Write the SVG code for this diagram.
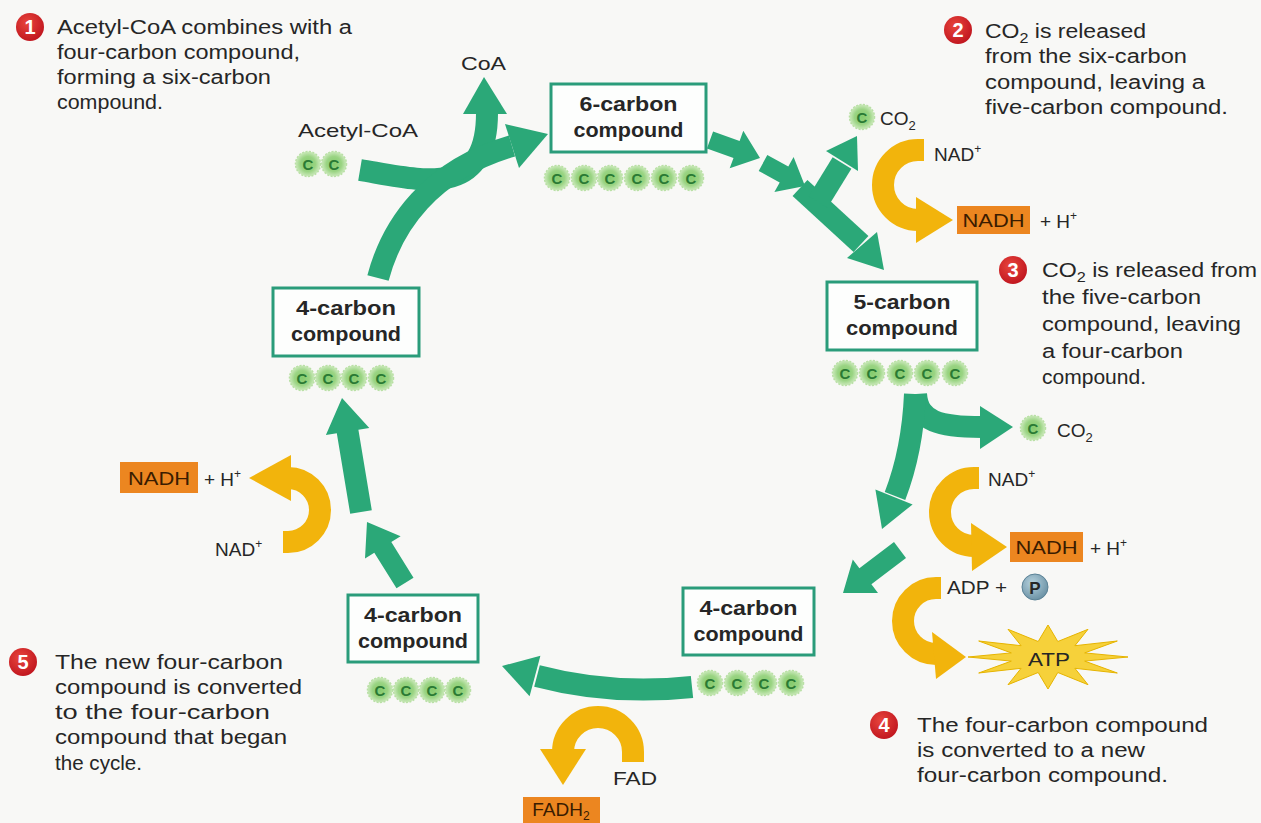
<svg xmlns="http://www.w3.org/2000/svg" xmlns:xlink="http://www.w3.org/1999/xlink" width="1261" height="823" viewBox="0 0 1261 823">
<defs>
<style>
text{font-family:"Liberation Sans",Arial,sans-serif;fill:#262626}
.ann{font-size:20px}
.lbl{font-size:19px}
.bt{font-size:21px;font-weight:bold;text-anchor:middle;fill:#262626}
.box{fill:#fdfefd;stroke:#2a9c7a;stroke-width:3}
.g{fill:#2ba878}
.gs{fill:none;stroke:#2ba878;stroke-width:22}
.y{fill:#f2b40c}
.ys{fill:none;stroke:#f2b40c;stroke-width:22}
.nadh{fill:#ec8620}
.nt{font-size:19px;text-anchor:middle;fill:#3a1c00}
.ct{font-size:15px;font-weight:bold;text-anchor:middle;fill:#2a7a34}
.bn{font-size:20px;font-weight:bold;text-anchor:middle;fill:#fff}
</style>
<radialGradient id="cg" cx="50%" cy="50%" r="50%">
<stop offset="0" stop-color="#84cb6d"/><stop offset="0.6" stop-color="#9ad483"/><stop offset="1" stop-color="#cdeabd"/>
</radialGradient>
<radialGradient id="rg" cx="40%" cy="35%" r="65%">
<stop offset="0" stop-color="#e8453c"/><stop offset="1" stop-color="#c21820"/>
</radialGradient>
<radialGradient id="pg" cx="40%" cy="35%" r="65%">
<stop offset="0" stop-color="#b6d2de"/><stop offset="1" stop-color="#6d93a6"/>
</radialGradient>
<g id="cC"><circle r="12.5" fill="url(#cg)" stroke="#b9e0a5" stroke-width="1.5" stroke-dasharray="2 1.5"/><text class="ct" y="5.5">C</text></g>
</defs>
<rect width="1261" height="823" fill="#f8f8f6"/>

<g id="connectors">
 <path class="gs" d="M 360 170 C 420 180, 487 200, 487 113"/>
 <polygon class="g" points="484,77 463,114 507,114"/>
 <path class="gs" d="M 378 278 C 392 225, 430 170, 512 146"/>
 <polygon class="g" points="548,134 519,168 505,124"/>
 <polygon class="g" points="713.1,131.5 739.6,141 743.3,130.7 760,158 729.7,168.3 733.5,158 706.9,148.5"/>
 <polygon class="g" points="767.3,155.1 788.3,166.6 793.6,157 805,186 774.4,192 779.7,182.4 758.7,170.9"/>
 <path class="gs" d="M 800 188 L 861 244"/>
 <polygon class="g" points="884,270 847,258 877,232"/>
 <path class="gs" d="M 818 202 L 842 163" stroke-width="18"/>
 <polygon class="g" points="857,136 858,171 826,151"/>
 <path class="gs" d="M 916 394 C 918 422, 940 427, 982 427"/>
 <polygon class="g" points="1013,427 980,406 980,449"/>
 <path class="gs" d="M 915 394 C 913 440, 905 470, 895 496"/>
 <polygon class="g" points="882,529 912.6,504.4 875.4,489.6"/>
 <polygon class="g" points="894,542 859.4,568.2 852.8,559.4 843,593 878,593 871.4,584.2 906,558"/>
 <path class="gs" d="M 692 687 C 645 692, 590 690, 537 676"/>
 <polygon class="g" points="502,666 540.4,655.7 529.6,696.3"/>
 <polygon class="g" points="413.5,577.7 391.3,542.1 400.6,536.3 367,522 365,558.5 374.3,552.7 396.5,588.3"/>
 <polygon class="g" points="371.8,510.2 358.4,429.7 369.3,427.9 342,398 325.9,435.1 336.8,433.3 350.2,513.8"/>

 <path class="ys" d="M 924 150 L 918 150 A 35 35 0 0 0 918 220"/>
 <polygon class="y" points="916,197 953,220 916,243"/>
 <path class="ys" d="M 979 478 L 974 478 A 34 34 0 0 0 974 546"/>
 <polygon class="y" points="971,523 1007,547 972,571"/>
 <path class="ys" d="M 941 588 L 936 588 A 33 33 0 0 0 936 654"/>
 <polygon class="y" points="932,632 966,657 936,679"/>
 <path class="ys" d="M 633 762 L 633 752 A 35 35 0 0 0 563 752"/>
 <polygon class="y" points="540,749 586,749 563,785"/>
 <path class="ys" d="M 283 542 L 288 542 A 32 32 0 0 0 288 478"/>
 <polygon class="y" points="291,455 249,478 291,501"/>
</g>

<g id="node-6c">
 <rect class="box" x="551" y="84" width="155" height="68"/>
 <text class="bt" x="628.5" y="111" textLength="98" lengthAdjust="spacingAndGlyphs">6-carbon</text>
 <text class="bt" x="628.5" y="137" textLength="110" lengthAdjust="spacingAndGlyphs">compound</text>
 <use href="#cC" x="557" y="178"/><use href="#cC" x="584" y="178"/><use href="#cC" x="610" y="178"/>
 <use href="#cC" x="637" y="178"/><use href="#cC" x="664" y="178"/><use href="#cC" x="691" y="178"/>
</g>
<g id="node-5c">
 <rect class="box" x="827" y="282" width="150" height="68"/>
 <text class="bt" x="902" y="309" textLength="97" lengthAdjust="spacingAndGlyphs">5-carbon</text>
 <text class="bt" x="902" y="335" textLength="112" lengthAdjust="spacingAndGlyphs">compound</text>
 <use href="#cC" x="845" y="373"/><use href="#cC" x="872" y="373"/><use href="#cC" x="900" y="373"/>
 <use href="#cC" x="927" y="373"/><use href="#cC" x="955" y="373"/>
</g>
<g id="node-4c-right">
 <rect class="box" x="683" y="588" width="131" height="67"/>
 <text class="bt" x="748.5" y="615" textLength="98" lengthAdjust="spacingAndGlyphs">4-carbon</text>
 <text class="bt" x="748.5" y="641" textLength="110" lengthAdjust="spacingAndGlyphs">compound</text>
 <use href="#cC" x="710" y="683"/><use href="#cC" x="737" y="683"/><use href="#cC" x="764" y="683"/><use href="#cC" x="791" y="683"/>
</g>
<g id="node-4c-bottom">
 <rect class="box" x="348" y="595" width="130" height="67"/>
 <text class="bt" x="413" y="622" textLength="98" lengthAdjust="spacingAndGlyphs">4-carbon</text>
 <text class="bt" x="413" y="648" textLength="110" lengthAdjust="spacingAndGlyphs">compound</text>
 <use href="#cC" x="380" y="690"/><use href="#cC" x="406" y="690"/><use href="#cC" x="432" y="690"/><use href="#cC" x="458" y="690"/>
</g>
<g id="node-4c-left">
 <rect class="box" x="273" y="288" width="146" height="68"/>
 <text class="bt" x="346" y="315" textLength="100" lengthAdjust="spacingAndGlyphs">4-carbon</text>
 <text class="bt" x="346" y="341" textLength="110" lengthAdjust="spacingAndGlyphs">compound</text>
 <use href="#cC" x="302" y="378"/><use href="#cC" x="328" y="378"/><use href="#cC" x="354" y="378"/><use href="#cC" x="381" y="378"/>
</g>

<g id="acetyl-coa">
 <text class="lbl" x="298" y="137" textLength="120" lengthAdjust="spacingAndGlyphs">Acetyl-CoA</text>
 <use href="#cC" x="308" y="164"/><use href="#cC" x="334" y="164"/>
</g>
<g id="coa"><text class="lbl" x="461" y="70" textLength="45" lengthAdjust="spacingAndGlyphs">CoA</text></g>

<g id="co2-top">
 <use href="#cC" x="862" y="117"/>
 <text class="lbl" x="880" y="125">CO<tspan font-size="13" dy="5">2</tspan></text>
</g>
<g id="nad-top">
 <text class="lbl" x="934" y="161">NAD<tspan font-size="12" dy="-8">+</tspan></text>
 <rect class="nadh" x="957" y="206" width="73" height="28"/>
 <text class="nt" x="993.5" y="227" textLength="62" lengthAdjust="spacingAndGlyphs">NADH</text>
 <text class="lbl" x="1040" y="228">+ H<tspan font-size="12" dy="-8">+</tspan></text>
</g>
<g id="co2-right">
 <use href="#cC" x="1033" y="428"/>
 <text class="lbl" x="1057" y="437">CO<tspan font-size="13" dy="5">2</tspan></text>
</g>
<g id="nad-right">
 <text class="lbl" x="988" y="486">NAD<tspan font-size="12" dy="-8">+</tspan></text>
 <rect class="nadh" x="1010" y="532" width="73" height="30"/>
 <text class="nt" x="1046.5" y="554" textLength="62" lengthAdjust="spacingAndGlyphs">NADH</text>
 <text class="lbl" x="1090" y="555">+ H<tspan font-size="12" dy="-8">+</tspan></text>
</g>
<g id="atp">
 <text class="lbl" x="947" y="594" textLength="60" lengthAdjust="spacingAndGlyphs">ADP +</text>
 <circle cx="1035" cy="587" r="13" fill="url(#pg)" stroke="#5b8296" stroke-width="1"/>
 <text x="1035" y="594" font-size="17" font-weight="bold" text-anchor="middle" fill="#1f3a4a">P</text>
 <polygon points="1128,657 1084.7,661.1 1117.3,673 1074.9,668.3 1088,684.7 1057.8,672.5 1048,689 1038.2,672.5 1008,684.7 1021.1,668.3 978.7,673 1011.3,661.1 968,657 1011.3,652.9 978.7,641 1021.1,645.7 1008,629.3 1038.2,641.5 1048,625 1057.8,641.5 1088,629.3 1074.9,645.7 1117.3,641 1084.7,652.9" fill="#f6d13a" stroke="#e6b400" stroke-width="1"/>
 <text class="lbl" x="1049" y="666" text-anchor="middle" fill="#3a2a00" textLength="42" lengthAdjust="spacingAndGlyphs">ATP</text>
</g>
<g id="fad">
 <text class="lbl" x="613" y="785" textLength="44" lengthAdjust="spacingAndGlyphs">FAD</text>
 <rect class="nadh" x="523" y="797" width="77" height="26"/>
 <text class="nt" x="561" y="816">FADH<tspan font-size="12" dy="4">2</tspan></text>
</g>
<g id="nad-left">
 <rect class="nadh" x="120" y="462" width="78" height="31"/>
 <text class="nt" x="159" y="485" textLength="62" lengthAdjust="spacingAndGlyphs">NADH</text>
 <text class="lbl" x="204" y="486">+ H<tspan font-size="12" dy="-8">+</tspan></text>
 <text class="lbl" x="215" y="556">NAD<tspan font-size="12" dy="-8">+</tspan></text>
</g>

<g id="step1">
 <circle cx="30" cy="27" r="14" fill="url(#rg)"/><text class="bn" x="30" y="34">1</text>
 <text class="ann" x="57" y="34" textLength="295" lengthAdjust="spacingAndGlyphs">Acetyl-CoA combines with a</text>
 <text class="ann" x="57" y="59" textLength="243" lengthAdjust="spacingAndGlyphs">four-carbon compound,</text>
 <text class="ann" x="57" y="84" textLength="214" lengthAdjust="spacingAndGlyphs">forming a six-carbon</text>
 <text class="ann" x="57" y="109" textLength="106" lengthAdjust="spacingAndGlyphs">compound.</text>
</g>
<g id="step2">
 <circle cx="958" cy="30" r="14" fill="url(#rg)"/><text class="bn" x="958" y="37">2</text>
 <text class="ann" x="985" y="38" textLength="161" lengthAdjust="spacingAndGlyphs">CO<tspan font-size="14" dy="5">2</tspan><tspan dy="-5"> is released</tspan></text>
 <text class="ann" x="985" y="63" textLength="202" lengthAdjust="spacingAndGlyphs">from the six-carbon</text>
 <text class="ann" x="985" y="89" textLength="220" lengthAdjust="spacingAndGlyphs">compound, leaving a</text>
 <text class="ann" x="985" y="114" textLength="243" lengthAdjust="spacingAndGlyphs">five-carbon compound.</text>
</g>
<g id="step3">
 <circle cx="1013" cy="270" r="14" fill="url(#rg)"/><text class="bn" x="1013" y="277">3</text>
 <text class="ann" x="1042" y="277" textLength="215" lengthAdjust="spacingAndGlyphs">CO<tspan font-size="14" dy="5">2</tspan><tspan dy="-5"> is released from</tspan></text>
 <text class="ann" x="1042" y="304" textLength="159" lengthAdjust="spacingAndGlyphs">the five-carbon</text>
 <text class="ann" x="1042" y="331" textLength="199" lengthAdjust="spacingAndGlyphs">compound, leaving</text>
 <text class="ann" x="1042" y="358" textLength="141" lengthAdjust="spacingAndGlyphs">a four-carbon</text>
 <text class="ann" x="1042" y="384" textLength="104" lengthAdjust="spacingAndGlyphs">compound.</text>
</g>
<g id="step4">
 <circle cx="884" cy="725" r="14" fill="url(#rg)"/><text class="bn" x="884" y="732">4</text>
 <text class="ann" x="917" y="732" textLength="291" lengthAdjust="spacingAndGlyphs">The four-carbon compound</text>
 <text class="ann" x="917" y="757" textLength="228" lengthAdjust="spacingAndGlyphs">is converted to a new</text>
 <text class="ann" x="917" y="782" textLength="251" lengthAdjust="spacingAndGlyphs">four-carbon compound.</text>
</g>
<g id="step5">
 <circle cx="23" cy="662" r="14" fill="url(#rg)"/><text class="bn" x="23" y="669">5</text>
 <text class="ann" x="55" y="669" textLength="228" lengthAdjust="spacingAndGlyphs">The new four-carbon</text>
 <text class="ann" x="55" y="694" textLength="247" lengthAdjust="spacingAndGlyphs">compound is converted</text>
 <text class="ann" x="55" y="719" textLength="215" lengthAdjust="spacingAndGlyphs">to the four-carbon</text>
 <text class="ann" x="55" y="744" textLength="232" lengthAdjust="spacingAndGlyphs">compound that began</text>
 <text class="ann" x="55" y="770" textLength="87" lengthAdjust="spacingAndGlyphs">the cycle.</text>
</g>
</svg>
